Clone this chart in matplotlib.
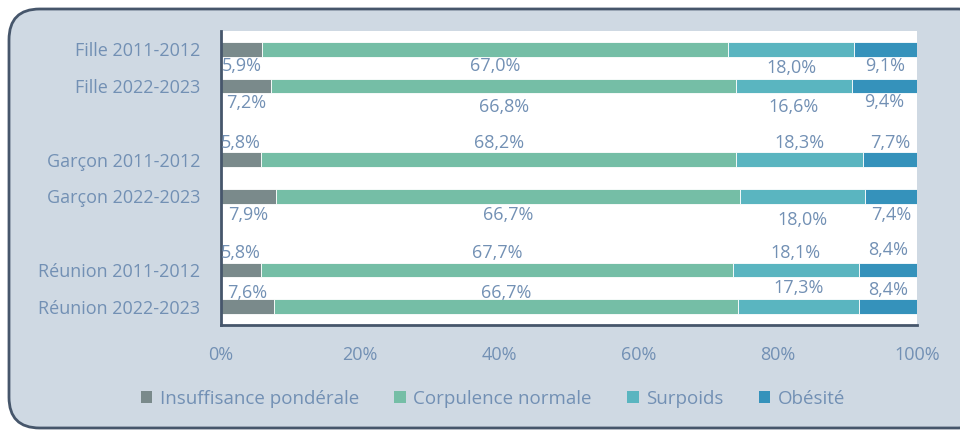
import matplotlib.pyplot as plt
from matplotlib.patches import FancyBboxPatch, Patch

categories = ["Fille 2011-2012", "Fille 2022-2023", "Garçon 2011-2012",
              "Garçon 2022-2023", "Réunion 2011-2012", "Réunion 2022-2023"]
series = ["Insuffisance pondérale", "Corpulence normale", "Surpoids", "Obésité"]
insuffisance = [5.9, 7.2, 5.8, 7.9, 5.8, 7.6]
normale = [67.0, 66.8, 68.2, 66.7, 67.7, 66.7]
surpoids = [18.0, 16.6, 18.3, 18.0, 18.1, 17.3]
obesite = [9.1, 9.4, 7.7, 7.4, 8.4, 8.4]
xticks = [0, 20, 40, 60, 80, 100]

colors = ["#7a8a8b", "#75bea6", "#5ab5c0", "#3592bb"]
txt = "#7290b4"
bg = "#cfd9e3"
edge = "#46566b"

# bar positions: pairs with a gap between groups
ypos = [0, 1, 3, 4, 6, 7]
# vertical shift of value labels (data units), per row and per series
label_dy = [
    [0.46, 0.44, 0.52, 0.44],
    [0.46, 0.57, 0.57, 0.44],
    [-0.46, -0.46, -0.46, -0.46],
    [0.52, 0.52, 0.65, 0.52],
    [-0.46, -0.46, -0.46, -0.54],
    [-0.38, -0.38, -0.52, -0.44],
]

plt.rcParams['font.family'] = ['Open Sans', 'DejaVu Sans']
fs = 13

fig = plt.figure(figsize=(9.6, 4.3), dpi=100)
fig.patch.set_facecolor("white")
frame = FancyBboxPatch((9 / 960, 2 / 430), 980 / 960, 419 / 430,
                       boxstyle="round,pad=0,rounding_size=0.032",
                       transform=fig.transFigure, facecolor=bg, edgecolor=edge,
                       linewidth=2, mutation_aspect=960 / 430, zorder=-5)
fig.patches.append(frame)

ax = fig.add_axes([221 / 960, 1 - 325 / 430, 696 / 960, 294 / 430])
ax.set_facecolor("white")
ax.set_zorder(2)

values = [insuffisance, normale, surpoids, obesite]
left = [0.0] * len(categories)
for i, (name, vals) in enumerate(zip(series, values)):
    ax.barh(ypos, vals, left=left, height=0.4, color=colors[i], label=name,
            edgecolor="white", linewidth=0.6)
    for r, v in enumerate(vals):
        ax.text(left[r] + v / 2, ypos[r] + label_dy[r][i],
                f"{v:.1f}%".replace(".", ","), ha="center", va="center",
                fontsize=fs, color=txt)
    left = [a + b for a, b in zip(left, vals)]

ax.set_xlim(0, 100)
ax.set_ylim(7.5, -0.5)
ax.set_yticks(ypos)
ax.set_yticklabels(categories, fontsize=fs, color=txt)
ax.set_xticks(xticks)
ax.set_xticklabels([f"{t}%" for t in xticks], fontsize=fs, color=txt)
ax.tick_params(axis="both", length=0)
ax.tick_params(axis="x", pad=15)
ax.tick_params(axis="y", pad=15)
for s in ["top", "right"]:
    ax.spines[s].set_visible(False)
for s in ["left", "bottom"]:
    ax.spines[s].set_color(edge)
    ax.spines[s].set_linewidth(2)

handles = [Patch(facecolor=c, edgecolor="none") for c in colors]
leg = fig.legend(handles, series, loc="center", bbox_to_anchor=(493 / 960, 1 - 399 / 430),
                 ncol=4, frameon=False, fontsize=13.5, labelcolor=txt,
                 handlelength=0.6, handleheight=0.6, handletextpad=0.4,
                 columnspacing=1.9)
leg.set_zorder(3)

fig.savefig("out.png", dpi=100, facecolor="white")
